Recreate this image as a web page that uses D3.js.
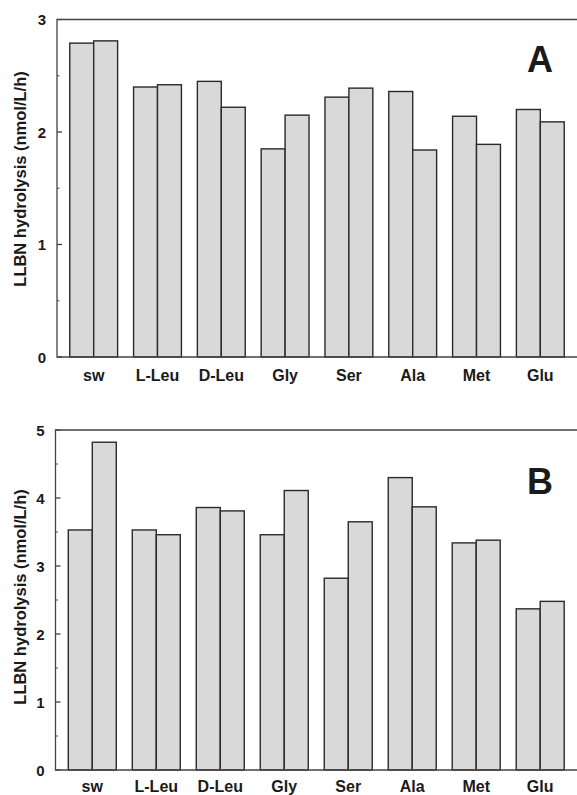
<!DOCTYPE html>
<html>
<head>
<meta charset="utf-8">
<script src="https://cdn.jsdelivr.net/npm/d3@7"></script>
<style>
  body { margin: 0; background: #fff; }
  text { font-family: "Liberation Sans", Arial, sans-serif; font-weight: bold; fill: #1a1a1a; }
</style>
</head>
<body>
<svg width="577" height="795"></svg>
<script>
// amino acid additions
var categories = ['sw', 'L-Leu', 'D-Leu', 'Gly', 'Ser', 'Ala', 'Met', 'Glu']

// panel A, two bars per group
var a1 = [2.79, 2.40, 2.45, 1.85, 2.31, 2.36, 2.14, 2.20]
var a2 = [2.81, 2.42, 2.22, 2.15, 2.39, 1.84, 1.89, 2.09]
// panel B
var b1 = [3.53, 3.53, 3.86, 3.46, 2.82, 4.30, 3.34, 2.37]
var b2 = [4.82, 3.46, 3.81, 4.11, 3.65, 3.87, 3.38, 2.48]

var ticksA = [0, 1, 2, 3]
var ticksB = [0, 1, 2, 3, 4, 5]

var svg = d3.select('svg')

function panel(o) {
  var g = svg.append('g')
  var x = d3.scaleBand().domain(categories).range([o.left, 577]).paddingInner(0.25).paddingOuter(0.2)
  var xs = d3.scaleBand().domain([0, 1]).range([0, x.bandwidth()])
  var y = d3.scaleLinear().domain([0, o.max]).range([o.bottom, o.top])

  // minor ticks at the halves
  var minor = d3.range(0.5, o.max, 1)
  g.selectAll('.minor').data(minor).enter().append('line')
    .attr('x1', o.left).attr('x2', o.left + 2.5)
    .attr('y1', function(d){ return y(d) }).attr('y2', function(d){ return y(d) })
    .attr('stroke', '#555').attr('stroke-width', 1)
  g.selectAll('.major').data(o.ticks).enter().append('line')
    .attr('x1', o.left).attr('x2', o.left + 5)
    .attr('y1', function(d){ return y(d) }).attr('y2', function(d){ return y(d) })
    .attr('stroke', '#333').attr('stroke-width', 1.2)
  g.selectAll('.tl').data(o.ticks).enter().append('text')
    .attr('x', o.left - 11).attr('y', function(d){ return y(d) + 5.5 })
    .attr('text-anchor', 'end').style('font-size', '15px')
    .text(function(d){ return d })

  // bars
  var series = [o.s1, o.s2]
  series.forEach(function(s, k) {
    g.selectAll('.bar' + k).data(s).enter().append('rect')
      .attr('x', function(d, i){ return x(categories[i]) + xs(k) })
      .attr('width', xs.bandwidth())
      .attr('y', function(d){ return y(d) })
      .attr('height', function(d){ return y(0) - y(d) })
      .attr('fill', '#d9d9d9').attr('stroke', '#2a2a2a').attr('stroke-width', 1.4)
  })

  // frame: top, left, bottom
  g.append('path')
    .attr('d', 'M577,' + y(o.max) + 'H' + o.left + 'V' + y(0) + 'H577')
    .attr('fill', 'none').attr('stroke', '#444').attr('stroke-width', 1.3)

  g.selectAll('.xl').data(categories).enter().append('text')
    .attr('x', function(d){ return x(d) + x.bandwidth() / 2 })
    .attr('y', o.labelY).attr('text-anchor', 'middle').style('font-size', '16px')
    .text(function(d){ return d })

  g.append('text')
    .attr('transform', 'translate(26,' + o.titleY + ') rotate(-90)')
    .attr('text-anchor', 'middle').style('font-size', '16.5px')
    .text('LLBN hydrolysis (nmol/L/h)')

  g.append('text').attr('x', 540).attr('y', o.letterY).attr('text-anchor', 'middle')
    .style('font-size', '36px').text(o.letter)
}

panel({ s1: a1, s2: a2, max: 3, ticks: ticksA, left: 57, top: 19.5, bottom: 357, labelY: 381, titleY: 179, letter: 'A', letterY: 72 })
panel({ s1: b1, s2: b2, max: 5, ticks: ticksB, left: 55.5, top: 430, bottom: 770, labelY: 792, titleY: 597, letter: 'B', letterY: 494 })
</script>
</body>
</html>
